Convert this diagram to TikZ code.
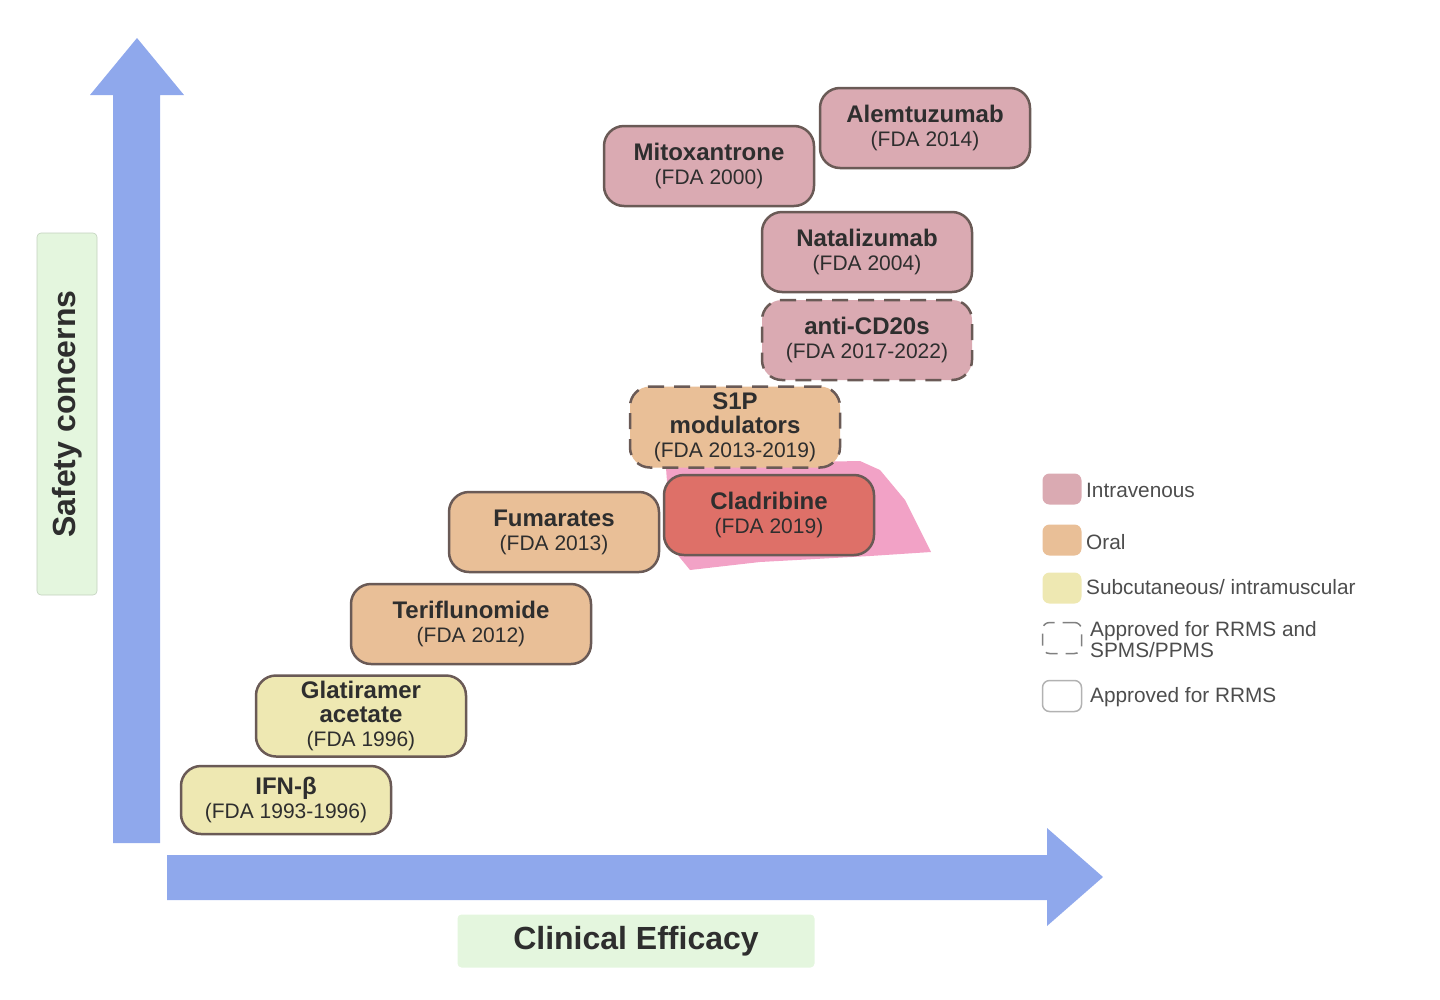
\documentclass[tikz,border=0pt]{standalone}
\usepackage{fontspec}
\setmainfont{Liberation Sans}

\definecolor{ivpink}{HTML}{DAAAB2}
\definecolor{oralorange}{HTML}{E9BF97}
\definecolor{scyellow}{HTML}{EEE8B2}
\definecolor{cladred}{HTML}{DE7068}
\definecolor{brushpink}{HTML}{F2A2C6}
\definecolor{axisblue}{HTML}{8FA8EC}
\definecolor{labelgreen}{HTML}{E4F6DE}
\definecolor{boxline}{HTML}{6A5A56}
\definecolor{inkgrey}{HTML}{2E2E2E}

\newcommand\drugname[1]{{\bfseries\fontsize{24}{24}\selectfont #1}}

\tikzset{
  drug/.style={draw=boxline, line width=2.5pt, rounded corners=20pt,
    minimum width=210pt, minimum height=80pt, inner sep=2pt,
    align=center, text=inkgrey, font=\fontsize{21}{24}\selectfont},
  allms/.style={dash pattern=on 16pt off 10pt},
  swatch/.style={rounded corners=7pt, minimum width=39pt,
    minimum height=31pt, inner sep=0pt},
  legtext/.style={anchor=west, inner sep=0pt, align=left,
    text=inkgrey!85, font=\fontsize{20.8}{21}\selectfont},
  axislabel/.style={fill=labelgreen, draw=labelgreen!85!black, line width=0.6pt,
    rounded corners=4pt, text=inkgrey,
    font=\bfseries\fontsize{32}{34}\selectfont}
}

\begin{document}
\begin{tikzpicture}[x=1pt, y=-1pt]
  \useasboundingbox (0,0) rectangle (1440,999);

  % axes
  \fill[axisblue] (113,843) -- (113,95) -- (90,95) -- (137,38)
    -- (184,95) -- (160,95) -- (160,843) -- cycle;
  \fill[axisblue] (167,855) -- (1047,855) -- (1047,828) -- (1103,877)
    -- (1047,926) -- (1047,900) -- (167,900) -- cycle;

  \node[axislabel, rotate=90, minimum width=362pt, minimum height=60pt]
    (safety) at (67,414) {Safety concerns};
  \node[axislabel, minimum width=357pt, minimum height=53pt, draw=none]
    (efficacy) at (636,941) {Clinical Efficacy};

  % highlight behind cladribine
  \fill[brushpink] (666,468) -- (700,464) -- (860,461) -- (880,470)
    -- (905,500) -- (931,552) -- (870,556) -- (760,562) -- (690,570)
    -- (672,548) -- cycle;

  % drugs
  \node[drug, fill=ivpink] (alem) at (925,128)
    {\drugname{Alemtuzumab}\\(FDA 2014)};
  \node[drug, fill=ivpink] (mito) at (709,166)
    {\drugname{Mitoxantrone}\\(FDA 2000)};
  \node[drug, fill=ivpink] (nata) at (867,252)
    {\drugname{Natalizumab}\\(FDA 2004)};
  \node[drug, fill=ivpink, allms] (cd20) at (867,340)
    {\drugname{anti-CD20s}\\(FDA 2017-2022)};
  \node[drug, fill=oralorange, allms, minimum height=81pt] (s1p) at (735,427)
    {\drugname{S1P}\\\drugname{modulators}\\(FDA 2013-2019)};
  \node[drug, fill=cladred] (clad) at (769,515)
    {\drugname{Cladribine}\\(FDA 2019)};
  \node[drug, fill=oralorange] (fuma) at (554,532)
    {\drugname{Fumarates}\\(FDA 2013)};
  \node[drug, fill=oralorange, minimum width=240pt] (teri) at (471,624)
    {\drugname{Teriflunomide}\\(FDA 2012)};
  \node[drug, fill=scyellow, minimum height=81pt] (glat) at (361,716)
    {\drugname{Glatiramer}\\\drugname{acetate}\\(FDA 1996)};
  \node[drug, fill=scyellow, minimum height=68pt] (ifnb) at (286,800)
    {\drugname{IFN-β}\\(FDA 1993-1996)};

  % legend
  \node[swatch, fill=ivpink] (iv) at (1062,489) {};
  \node[legtext] (ivtext) at (1086,490) {Intravenous};
  \node[swatch, fill=oralorange] (oral) at (1062,540) {};
  \node[legtext] (oraltext) at (1086,542) {Oral};
  \node[swatch, fill=scyellow] (sc) at (1062,588) {};
  \node[legtext] (sctext) at (1086,587) {Subcutaneous/ intramuscular};
  \node[swatch, draw=gray, line width=1.5pt, dash pattern=on 12pt off 8pt]
    (dashkey) at (1062,638) {};
  \node[legtext] (dashtext) at (1090,640) {Approved for RRMS and\\SPMS/PPMS};
  \node[swatch, draw=gray!60, line width=1.5pt] (solidkey) at (1062,696) {};
  \node[legtext] (solidtext) at (1090,697) {Approved for RRMS};
\end{tikzpicture}
\end{document}
